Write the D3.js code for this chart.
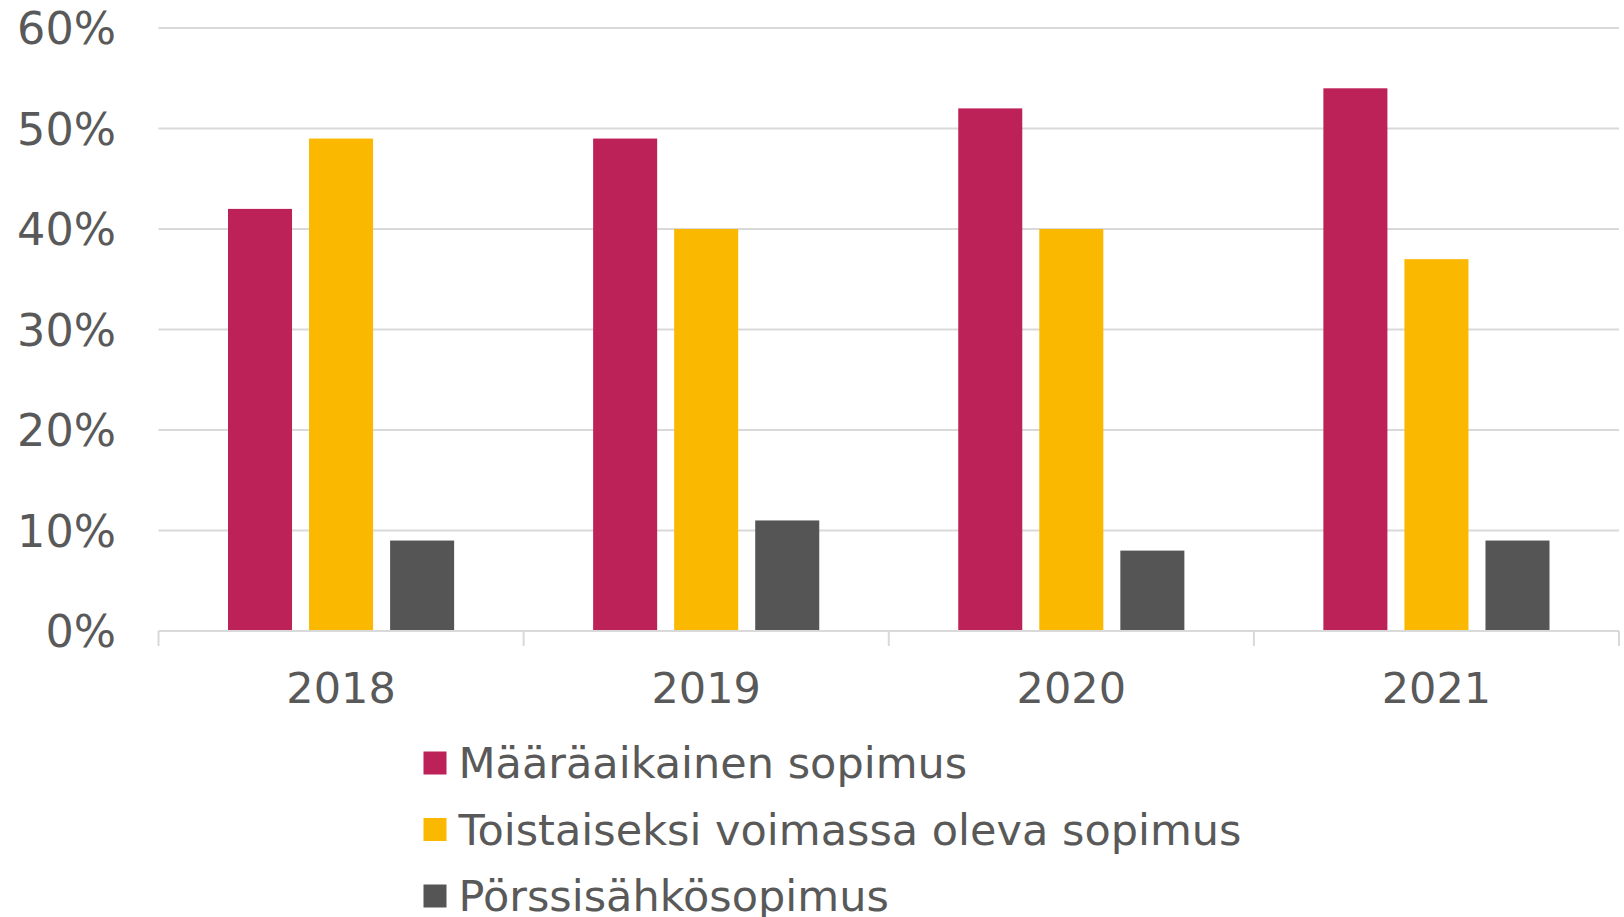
<!DOCTYPE html>
<html>
<head>
<meta charset="utf-8">
<script src="https://cdn.jsdelivr.net/npm/d3@7"></script>
<style>
  html, body { margin: 0; padding: 0; background: #fff; }
  svg { display: block; }
</style>
</head>
<body>
<svg id="chart" width="1624" height="917"></svg>
<script>
const years = ["2018", "2019", "2020", "2021"];
const seriesNames = ["Määräaikainen sopimus", "Toistaiseksi voimassa oleva sopimus", "Pörssisähkösopimus"];
const fixedTerm = [42, 49, 52, 54];
const openEnded = [49, 40, 40, 37];
const spotPrice = [9, 11, 8, 9];
const seriesColors = ["#BC2157", "#FAB900", "#555555"];
const yTicks = [0, 10, 20, 30, 40, 50, 60];

(function () {
const seriesValues = [fixedTerm, openEnded, spotPrice];

const svg = d3.select("#chart");
const plotLeft = 158.5, plotRight = 1619, plotTop = 28, plotBottom = 631;
const textColor = "#595959";
const font = "'DejaVu Sans', Verdana, sans-serif";

const y = d3.scaleLinear().domain([0, 60]).range([plotBottom, plotTop]);
const x0 = d3.scaleBand().domain(years).range([plotLeft, plotRight]).paddingInner(0).paddingOuter(0);
const x1 = d3.scaleBand().domain(d3.range(seriesNames.length))
  .range([69.5, x0.bandwidth() - 69.5]).paddingInner(0.21).paddingOuter(0);

// gridlines
svg.append("g").selectAll("line").data(yTicks.filter(d => d > 0)).join("line")
  .attr("x1", plotLeft).attr("x2", plotRight)
  .attr("y1", d => y(d)).attr("y2", d => y(d))
  .attr("stroke", "#D9D9D9").attr("stroke-width", 2);

// y labels
svg.append("g").selectAll("text").data(yTicks).join("text")
  .attr("x", 116).attr("y", d => y(d))
  .attr("dy", "0.36em")
  .attr("text-anchor", "end")
  .attr("font-family", font).attr("font-size", 44.5)
  .attr("fill", textColor)
  .text(d => d + "%");

// bars
const groups = svg.append("g").selectAll("g").data(years).join("g")
  .attr("transform", d => `translate(${x0(d)},0)`);
groups.selectAll("rect").data((yr, i) => seriesValues.map((s, k) => ({k, v: s[i]}))).join("rect")
  .attr("x", d => x1(d.k))
  .attr("width", x1.bandwidth())
  .attr("y", d => y(d.v))
  .attr("height", d => y(0) - y(d.v))
  .attr("fill", d => seriesColors[d.k]);

// x axis line and ticks
svg.append("line").attr("x1", plotLeft).attr("x2", plotRight).attr("y1", y(0)).attr("y2", y(0))
  .attr("stroke", "#D9D9D9").attr("stroke-width", 2);
const boundaries = years.map(d => x0(d)).concat([plotRight]);
svg.append("g").selectAll("line").data(boundaries).join("line")
  .attr("x1", d => d).attr("x2", d => d)
  .attr("y1", y(0)).attr("y2", y(0) + 15)
  .attr("stroke", "#D9D9D9").attr("stroke-width", 2);

// x labels
svg.append("g").selectAll("text").data(years).join("text")
  .attr("x", d => x0(d) + x0.bandwidth() / 2)
  .attr("y", 687.5).attr("dy", "0.36em")
  .attr("text-anchor", "middle")
  .attr("font-family", font).attr("font-size", 43)
  .attr("fill", textColor)
  .text(d => d);

// legend
const legend = svg.append("g").selectAll("g").data(seriesNames).join("g")
  .attr("transform", (d, i) => `translate(423.5, ${763 + i * 66.5})`);
legend.append("rect")
  .attr("x", 0).attr("y", -11.5).attr("width", 23).attr("height", 23)
  .attr("fill", (d, i) => seriesColors[i]);
legend.append("text")
  .attr("x", 35).attr("y", 0).attr("dy", "0.36em")
  .attr("font-family", font).attr("font-size", 43)
  .attr("fill", textColor)
  .text(d => d);
})();
</script>
</body>
</html>
